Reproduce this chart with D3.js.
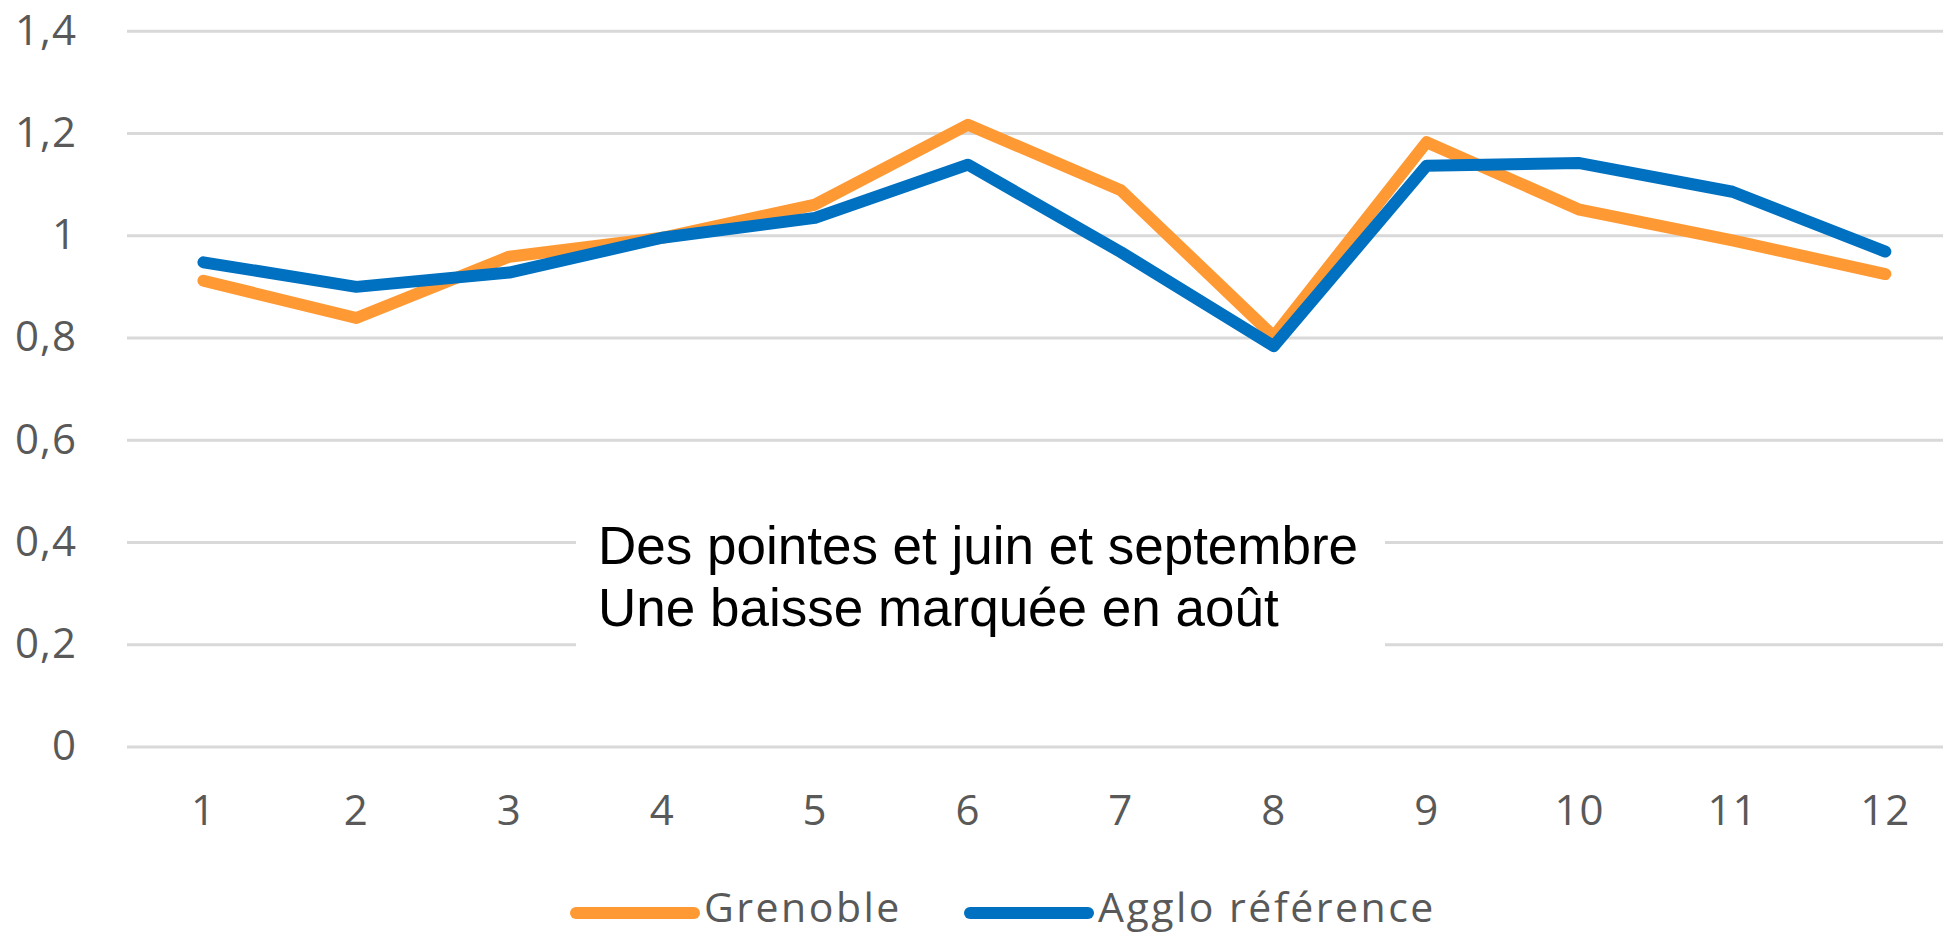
<!DOCTYPE html>
<html>
<head>
<meta charset="utf-8">
<script src="https://cdn.jsdelivr.net/npm/d3@7"></script>
<style>
  body { margin: 0; background: #fff; }
</style>
</head>
<body>
<div id="chart"></div>
<script>
// chart size
const width = 1943,
  height = 933

// data
const months = [1, 2, 3, 4, 5, 6, 7, 8, 9, 10, 11, 12]
const grenoble = [0.911, 0.838, 0.958, 0.995, 1.06, 1.216, 1.088, 0.802, 1.182, 1.05, 0.99, 0.924]
const agglo = [0.947, 0.899, 0.927, 0.995, 1.034, 1.138, 0.967, 0.783, 1.136, 1.141, 1.085, 0.968]
const yTicks = [0, 0.2, 0.4, 0.6, 0.8, 1, 1.2, 1.4]
const seriesNames = ['Grenoble', 'Agglo référence']
const seriesColors = ['#ff9933', '#0070c0']
const note = ['Des pointes et juin et septembre', 'Une baisse marquée en août']

let svg = d3.select('#chart')
  .append('svg')
  .attr('width', width)
  .attr('height', height)

// scales
const xScale = d3.scaleBand()
  .domain(months)
  .range([127, 127 + 12 * 152.9])

const yScale = d3.scaleLinear()
  .domain([0, 1.4])
  .range([746.5, 30.7])

const fmt = d => String(d).replace('.', ',')

// gridlines + y labels
let axisY = d3.axisLeft(yScale)
  .tickValues(yTicks)
  .tickSize(-(width - 127))
  .tickPadding(50)
  .tickFormat(fmt)

let gy = svg.append('g')
  .attr('transform', 'translate(127, 0)')
  .call(axisY)
gy.select('.domain').remove()
gy.selectAll('.tick line')
  .attr('stroke', '#d9d9d9')
  .attr('stroke-width', 3)
gy.selectAll('.tick text')
  .attr('fill', '#595959')
  .style('font-family', '"Open Sans", sans-serif')
  .style('font-size', '42px')
  .style('letter-spacing', '1px')

// x labels
let axisX = d3.axisBottom(xScale)
  .tickSize(0)
  .tickPadding(49)

let gx = svg.append('g')
  .attr('transform', 'translate(0, 746.5)')
  .call(axisX)
gx.select('.domain').remove()
gx.selectAll('.tick text')
  .attr('fill', '#595959')
  .style('font-family', '"Open Sans", sans-serif')
  .style('font-size', '42px')
  .style('letter-spacing', '1px')

// white box behind the note
svg.append('rect')
  .attr('x', 576)
  .attr('y', 500)
  .attr('width', 809)
  .attr('height', 190)
  .attr('fill', '#fff')

svg.selectAll('text.note')
  .data(note)
  .enter()
  .append('text')
  .attr('class', 'note')
  .attr('x', 598)
  .attr('y', (d, i) => 564 + i * 62)
  .attr('fill', '#000')
  .style('font-family', '"Liberation Sans", Arial, sans-serif')
  .style('font-size', '53px')
  .text(d => d)

// lines
const line = d3.line()
  .x((d, i) => xScale(months[i]) + xScale.bandwidth() / 2)
  .y(d => yScale(d))

svg.selectAll('path.series')
  .data([grenoble, agglo])
  .enter()
  .append('path')
  .attr('class', 'series')
  .attr('d', line)
  .attr('fill', 'none')
  .attr('stroke', (d, i) => seriesColors[i])
  .attr('stroke-width', 12)
  .attr('stroke-linejoin', 'round')
  .attr('stroke-linecap', 'round')

// legend
const legendX = [576, 970]
let legend = svg.selectAll('g.legend')
  .data(seriesNames)
  .enter()
  .append('g')
  .attr('class', 'legend')
  .attr('transform', (d, i) => `translate(${legendX[i]}, 913)`)

legend.append('line')
  .attr('x1', 0)
  .attr('x2', 118)
  .attr('stroke', (d, i) => seriesColors[i])
  .attr('stroke-width', 12)
  .attr('stroke-linecap', 'round')

legend.append('text')
  .attr('x', 128)
  .attr('y', 9)
  .attr('fill', '#595959')
  .style('font-family', '"Open Sans", sans-serif')
  .style('font-size', '41px')
  .style('letter-spacing', '2.5px')
  .text(d => d)
</script>
</body>
</html>
